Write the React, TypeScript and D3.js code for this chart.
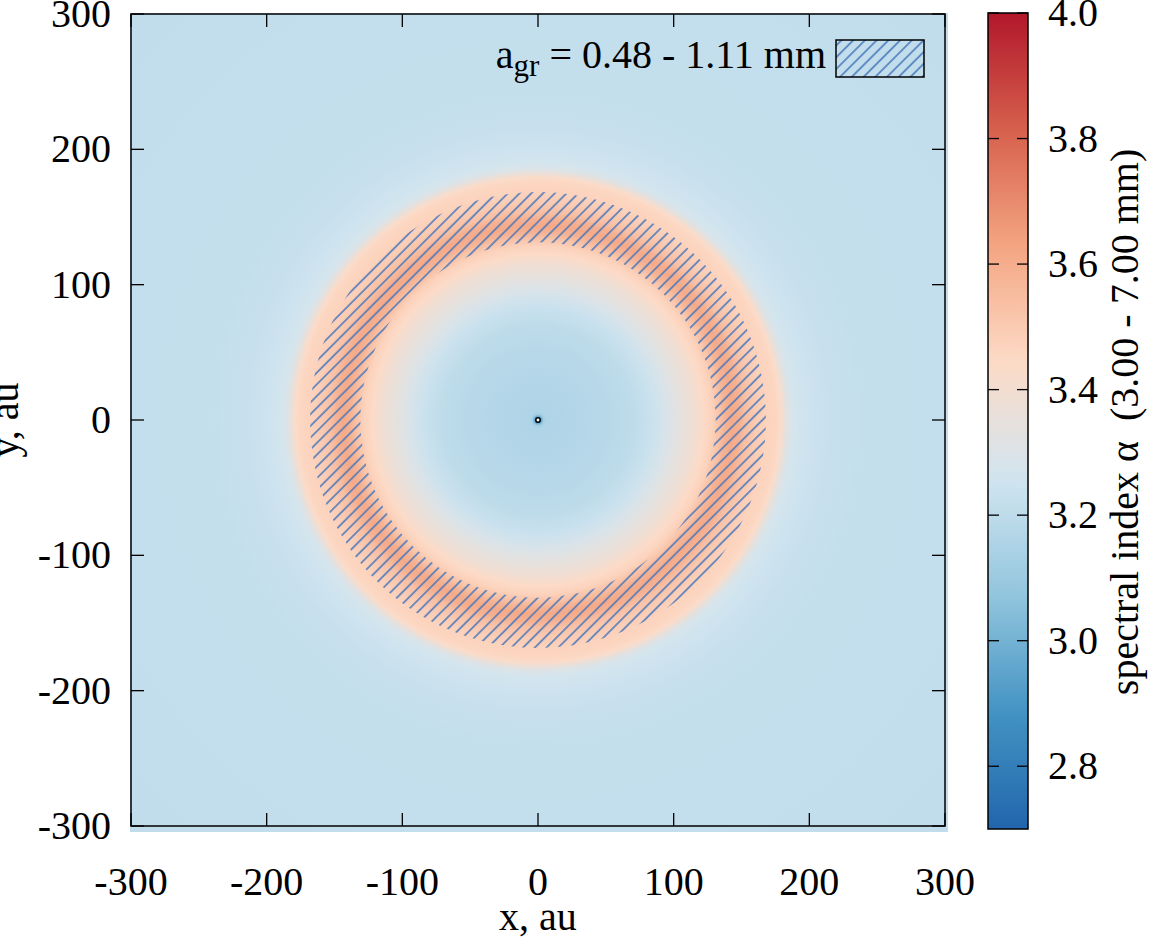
import { useEffect, useRef } from 'react';
import * as d3 from 'd3';

// radial profile of the spectral index (radius in au -> alpha)
const profileR = [0, 2, 4, 6, 30, 50, 70, 85, 95, 105, 115, 122, 128, 133, 138, 143, 148, 153, 160, 168, 175, 179, 182, 185, 190, 200, 215, 240, 300, 430];
const profileA = [2.7, 2.9, 3.12, 3.16, 3.17, 3.18, 3.2, 3.24, 3.29, 3.34, 3.39, 3.44, 3.47, 3.52, 3.58, 3.61, 3.59, 3.54, 3.5, 3.47, 3.46, 3.43, 3.36, 3.3, 3.265, 3.245, 3.23, 3.22, 3.215, 3.21];

// grain size band a_gr = 0.48 - 1.11 mm, radii in au
const hatchRange = [131, 168];

const xTicks = [-300, -200, -100, 0, 100, 200, 300];
const yTicks = [-300, -200, -100, 0, 100, 200, 300];
const cbTicks = [2.8, 3.0, 3.2, 3.4, 3.6, 3.8, 4.0];
const cbDomain = [2.7, 4.0];

// gnuplot rdbu palette, low -> high
const palette = ['#2166ac', '#4393c3', '#92c5de', '#d1e5f0', '#fddbc7', '#f4a582', '#d6604d', '#b2182b'];

const W = 1152;
const H = 940;
const FONT = '"Liberation Serif", "DejaVu Serif", serif';
const FS = '40px';

const App = () => {
  const svgRef = useRef<SVGSVGElement>(null);

  useEffect(() => {
    if (!svgRef.current) return;
    const svg = d3.select(svgRef.current);
    svg.selectAll('*').remove();

    const plot = { left: 131, right: 945, top: 14, bottom: 826 };
    const cb = { left: 988, right: 1028, top: 13, bottom: 829 };

    const x = d3.scaleLinear().domain([-300, 300]).range([plot.left, plot.right]);
    const y = d3.scaleLinear().domain([-300, 300]).range([plot.bottom, plot.top]);
    const cy = d3.scaleLinear().domain(cbDomain).range([cb.bottom, cb.top]);

    const color = d3.scaleLinear<string>()
      .domain(palette.map((_, i) => cbDomain[0] + (i * (cbDomain[1] - cbDomain[0])) / (palette.length - 1)))
      .range(palette)
      .interpolate(d3.interpolateRgb)
      .clamp(true);

    const rPx = (au: number) => x(au) - x(0);
    const rMax = profileR[profileR.length - 1];

    const defs = svg.append('defs');

    // radial map from the profile
    const rg = defs.append('radialGradient')
      .attr('id', 'alphaMap')
      .attr('gradientUnits', 'userSpaceOnUse')
      .attr('cx', x(0))
      .attr('cy', y(0))
      .attr('r', rPx(rMax));
    profileR.forEach((r, i) => {
      rg.append('stop')
        .attr('offset', r / rMax)
        .attr('stop-color', color(profileA[i]));
    });

    // colorbar gradient
    const lg = defs.append('linearGradient')
      .attr('id', 'cbGrad')
      .attr('x1', 0).attr('y1', 1).attr('x2', 0).attr('y2', 0);
    d3.range(0, 1.0001, 0.02).forEach(t => {
      lg.append('stop')
        .attr('offset', t)
        .attr('stop-color', color(cbDomain[0] + t * (cbDomain[1] - cbDomain[0])));
    });

    // hatch pattern
    const pat = defs.append('pattern')
      .attr('id', 'hatch')
      .attr('patternUnits', 'userSpaceOnUse')
      .attr('width', 8.3)
      .attr('height', 8.3)
      .attr('patternTransform', 'rotate(45)');
    pat.append('line')
      .attr('x1', 1).attr('y1', -1).attr('x2', 1).attr('y2', 9.3)
      .attr('stroke', '#4677bb')
      .attr('stroke-opacity', 0.85)
      .attr('stroke-width', 1.8);

    const g = svg.append('g');

    // map (gnuplot image overhangs the frame a little on right/bottom)
    g.append('rect')
      .attr('x', plot.left - 1)
      .attr('y', plot.top - 1)
      .attr('width', plot.right - plot.left + 4)
      .attr('height', plot.bottom - plot.top + 7)
      .attr('fill', 'url(#alphaMap)');

    // hatched annulus
    const arc = d3.arc()
      .innerRadius(rPx(hatchRange[0]))
      .outerRadius(rPx(hatchRange[1]))
      .startAngle(0)
      .endAngle(2 * Math.PI);
    g.append('path')
      .attr('transform', `translate(${x(0)},${y(0)})`)
      .attr('d', arc({} as any) as string)
      .attr('fill', 'url(#hatch)');

    // central star
    g.append('circle')
      .attr('cx', x(0))
      .attr('cy', y(0))
      .attr('r', 2.2)
      .attr('fill', 'white')
      .attr('stroke', 'black')
      .attr('stroke-width', 1.5);

    // frame
    g.append('rect')
      .attr('x', plot.left)
      .attr('y', plot.top)
      .attr('width', plot.right - plot.left)
      .attr('height', plot.bottom - plot.top)
      .attr('fill', 'none')
      .attr('stroke', 'black')
      .attr('stroke-width', 1.5);

    const tl = 13;
    xTicks.forEach(t => {
      g.append('line').attr('x1', x(t)).attr('x2', x(t)).attr('y1', plot.bottom).attr('y2', plot.bottom - tl)
        .attr('stroke', 'black').attr('stroke-width', 1.3);
      g.append('line').attr('x1', x(t)).attr('x2', x(t)).attr('y1', plot.top).attr('y2', plot.top + tl)
        .attr('stroke', 'black').attr('stroke-width', 1.3);
      g.append('text')
        .attr('x', x(t))
        .attr('y', 895)
        .attr('text-anchor', 'middle')
        .style('font-family', FONT)
        .style('font-size', FS)
        .text(t);
    });
    yTicks.forEach(t => {
      g.append('line').attr('x1', plot.left).attr('x2', plot.left + tl).attr('y1', y(t)).attr('y2', y(t))
        .attr('stroke', 'black').attr('stroke-width', 1.3);
      g.append('line').attr('x1', plot.right).attr('x2', plot.right - tl).attr('y1', y(t)).attr('y2', y(t))
        .attr('stroke', 'black').attr('stroke-width', 1.3);
      g.append('text')
        .attr('x', 111)
        .attr('y', y(t) + 13)
        .attr('text-anchor', 'end')
        .style('font-family', FONT)
        .style('font-size', FS)
        .text(t);
    });

    g.append('text')
      .attr('x', x(0))
      .attr('y', 930)
      .attr('text-anchor', 'middle')
      .style('font-family', FONT)
      .style('font-size', FS)
      .text('x, au');

    g.append('text')
      .attr('transform', `translate(18,${y(0)}) rotate(-90)`)
      .attr('text-anchor', 'middle')
      .style('font-family', FONT)
      .style('font-size', FS)
      .text('y, au');

    // legend
    const legText = g.append('text')
      .attr('x', 826)
      .attr('y', 68)
      .attr('text-anchor', 'end')
      .style('font-family', FONT)
      .style('font-size', FS);
    legText.append('tspan').text('a');
    legText.append('tspan').attr('dy', 8).style('font-size', '31px').text('gr');
    legText.append('tspan').attr('dy', -8).text(' = 0.48 - 1.11 mm');

    g.append('rect')
      .attr('x', 836)
      .attr('y', 40)
      .attr('width', 88)
      .attr('height', 37)
      .attr('fill', 'url(#hatch)')
      .attr('stroke', 'black')
      .attr('stroke-width', 1.5);

    // colorbar
    g.append('rect')
      .attr('x', cb.left)
      .attr('y', cb.top)
      .attr('width', cb.right - cb.left)
      .attr('height', cb.bottom - cb.top)
      .attr('fill', 'url(#cbGrad)')
      .attr('stroke', 'black')
      .attr('stroke-width', 1.5);

    cbTicks.forEach(t => {
      g.append('line').attr('x1', cb.left).attr('x2', cb.left + 11).attr('y1', cy(t)).attr('y2', cy(t))
        .attr('stroke', 'black').attr('stroke-width', 1.3);
      g.append('line').attr('x1', cb.right).attr('x2', cb.right - 11).attr('y1', cy(t)).attr('y2', cy(t))
        .attr('stroke', 'black').attr('stroke-width', 1.3);
      g.append('text')
        .attr('x', 1048)
        .attr('y', cy(t) + 13)
        .style('font-family', FONT)
        .style('font-size', FS)
        .text(t.toFixed(1));
    });

    g.append('text')
      .attr('transform', `translate(1138,422) rotate(-90)`)
      .attr('text-anchor', 'middle')
      .style('font-family', FONT)
      .style('font-size', FS)
      .style('white-space', 'pre')
      .text('spectral index α  (3.00 - 7.00 mm)');
  }, []);

  return (
    <svg
      ref={svgRef}
      width={W}
      height={H}
      style={{ position: 'absolute', left: 0, top: 0, background: 'white' }}
    />
  );
};

export default App;
